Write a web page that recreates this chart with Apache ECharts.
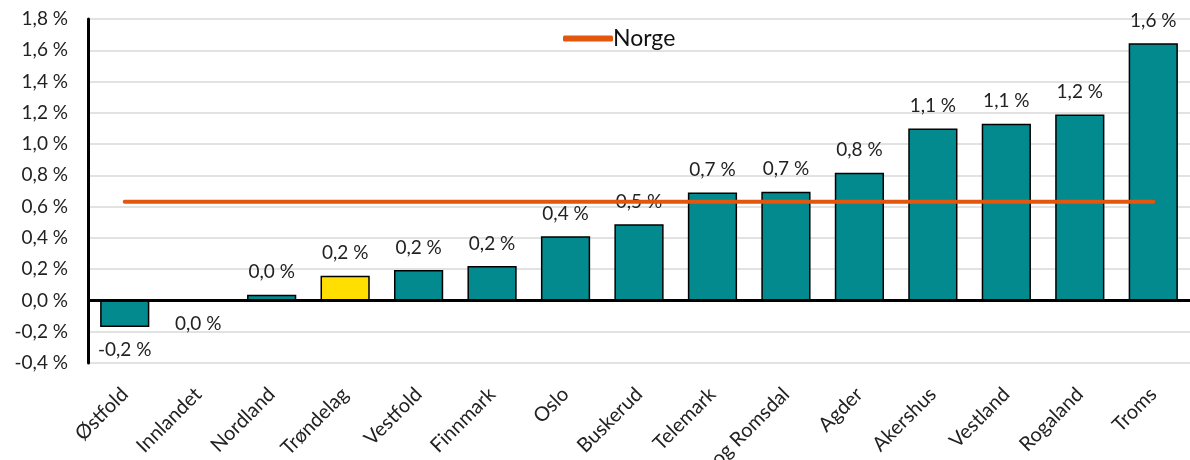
<!DOCTYPE html>
<html>
<head>
<meta charset="utf-8">
<script src="https://cdn.jsdelivr.net/npm/echarts@6/dist/echarts.min.js"></script>
<style>
  html, body { margin: 0; padding: 0; background: #fff; }
  #chart { width: 1190px; height: 460px; }
</style>
</head>
<body>
<div id="chart"></div>
<script>
const categories = ['Østfold', 'Innlandet', 'Nordland', 'Trøndelag', 'Vestfold', 'Finnmark', 'Oslo',
  'Buskerud', 'Telemark', 'Møre og Romsdal', 'Agder', 'Akershus', 'Vestland', 'Rogaland', 'Troms']
const values = [-0.17, -0.004, 0.036, 0.158, 0.195, 0.221, 0.41, 0.487, 0.69, 0.696, 0.816, 1.10, 1.13, 1.19, 1.645]
const norge = 0.632
const highlight = 'Trøndelag'

const FONT = 'Lato, "Open Sans", sans-serif'
const TEAL = '#028a8f'
const YELLOW = '#ffdf00'
const ORANGE = '#e3560d'

const fmt = v => v.toFixed(1).replace('.', ',').replace('-0,0', '0,0') + ' %'

const chart = echarts.init(document.getElementById('chart'))
chart.setOption({
  animation: false,
  grid: { left: 88, right: 0, top: 19, bottom: 97, containLabel: false, outerBoundsMode: 'none' },
  legend: {
    data: ['Norge'],
    left: 558,
    top: 22,
    icon: 'roundRect',
    itemWidth: 50,
    itemHeight: 6,
    itemGap: 10,
    textStyle: { fontFamily: FONT, fontSize: 23, color: '#111', padding: [0, 0, 0, -5] }
  },
  xAxis: {
    type: 'category',
    data: categories,
    axisLine: { show: false, onZero: false },
    axisTick: { show: false },
    axisLabel: {
      rotate: 45,
      interval: 0,
      margin: 28,
      fontFamily: FONT,
      fontSize: 20,
      color: '#222'
    }
  },
  yAxis: {
    type: 'value',
    min: -0.4,
    max: 1.8,
    interval: 0.2,
    axisLine: { show: true, lineStyle: { color: '#000', width: 3 } },
    axisTick: { show: false },
    splitLine: { lineStyle: { color: '#d9d9d9', width: 1.5 } },
    axisLabel: {
      margin: 20,
      fontFamily: FONT,
      fontSize: 19,
      color: '#222',
      formatter: v => fmt(v)
    }
  },
  series: [
    {
      name: 'Endring',
      type: 'bar',
      barCategoryGap: '33%',
      data: values.map((v, i) => ({
        value: v,
        itemStyle: { color: categories[i] === highlight ? YELLOW : TEAL },
        label: { position: v < 0 ? 'bottom' : 'top' }
      })),
      itemStyle: { borderColor: '#000', borderWidth: 1.5 },
      label: {
        show: true,
        distance: 13,
        fontFamily: FONT,
        fontSize: 19,
        color: '#222',
        formatter: p => fmt(p.value)
      },
      markLine: {
        silent: true,
        symbol: 'none',
        label: { show: false },
        lineStyle: { color: '#000', width: 3, type: 'solid' },
        data: [{ yAxis: 0 }]
      },
      z: 2
    },
    {
      name: 'Norge',
      type: 'line',
      data: categories.map(() => norge),
      symbol: 'none',
      showSymbol: false,
      lineStyle: { color: ORANGE, width: 4, cap: 'round' },
      itemStyle: { color: ORANGE },
      z: 3
    }
  ]
})
</script>
</body>
</html>
